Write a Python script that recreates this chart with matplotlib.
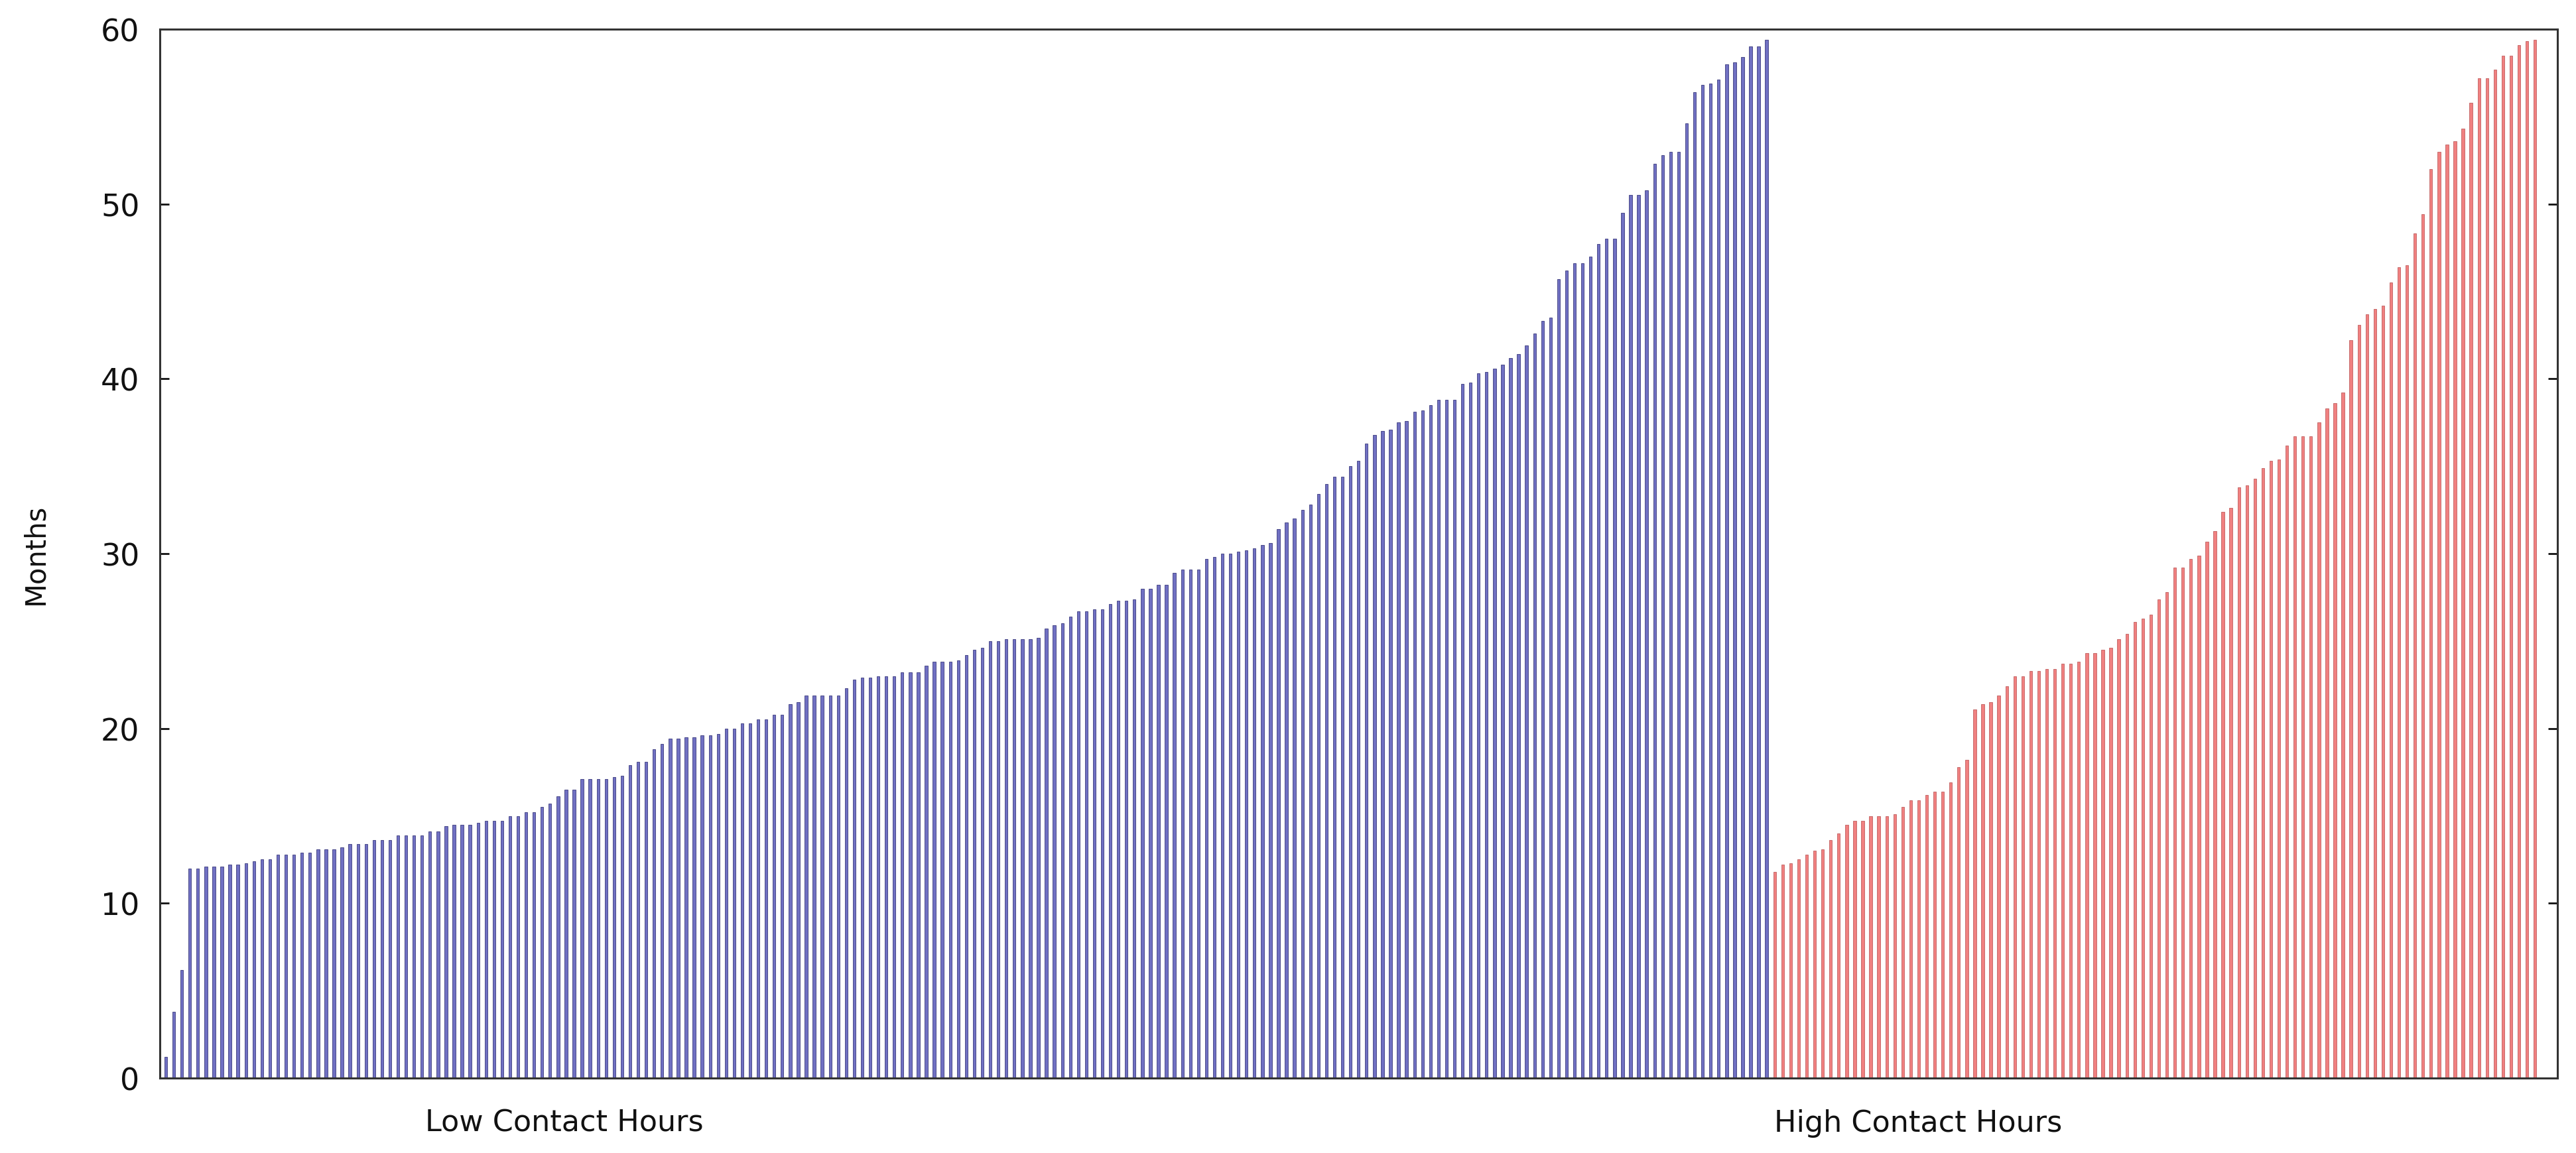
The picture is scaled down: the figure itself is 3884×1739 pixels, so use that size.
import matplotlib
matplotlib.use("Agg")
import matplotlib.pyplot as plt
import numpy as np

# months per patient, sorted
low_contact = [
    1.2, 3.8, 6.2, 12.0, 12.0, 12.1, 12.1, 12.1, 12.2, 12.2, 12.3, 12.4, 12.5, 12.5,
    12.8, 12.8, 12.8, 12.9, 12.9, 13.1, 13.1, 13.1, 13.2, 13.4, 13.4, 13.4, 13.6, 13.6,
    13.6, 13.9, 13.9, 13.9, 13.9, 14.1, 14.1, 14.4,
    14.5, 14.5, 14.5, 14.6, 14.7, 14.7, 14.7, 15.0, 15.0, 15.2, 15.2, 15.5, 15.7, 16.1,
    16.5, 16.5, 17.1, 17.1, 17.1, 17.1, 17.2, 17.3, 17.9, 18.1, 18.1, 18.8, 19.1, 19.4,
    19.4, 19.5, 19.5, 19.6, 19.6, 19.7, 20.0,
    20.0, 20.3, 20.3, 20.5, 20.5, 20.8, 20.8, 21.4, 21.5, 21.9, 21.9, 21.9, 21.9, 21.9,
    22.3, 22.8, 22.9, 22.9, 23.0, 23.0, 23.0, 23.2, 23.2, 23.2, 23.6, 23.8, 23.8, 23.8,
    23.9, 24.2, 24.5, 24.6, 25.0, 25.0, 25.1, 25.1,
    25.1, 25.1, 25.2, 25.7, 25.9, 26.0, 26.4, 26.7, 26.7, 26.8, 26.8, 27.1, 27.3, 27.3,
    27.4, 28.0, 28.0, 28.2, 28.2, 28.9, 29.1, 29.1, 29.1, 29.7, 29.8, 30.0, 30.0, 30.1,
    30.2, 30.3, 30.5, 30.6, 31.4, 31.8, 32.0,
    32.5, 32.8, 33.4, 34.0, 34.4, 34.4, 35.0, 35.3, 36.3, 36.8, 37.0, 37.1, 37.5, 37.6,
    38.1, 38.2, 38.5, 38.8, 38.8, 38.8, 39.7, 39.8, 40.3, 40.4, 40.6, 40.8, 41.2, 41.4,
    41.9, 42.6, 43.3, 43.5, 45.7,
    46.2, 46.6, 46.6, 47.0, 47.7, 48.0, 48.0, 49.5, 50.5, 50.5, 50.8, 52.3, 52.8, 53.0,
    53.0, 54.6, 56.4, 56.8, 56.9, 57.1, 58.0, 58.1, 58.4, 59.0, 59.0, 59.4,
]
high_contact = [
    11.8, 12.2, 12.3, 12.5, 12.8, 13.0, 13.1, 13.6, 14.0, 14.5, 14.7, 14.7, 15.0, 15.0,
    15.0, 15.1, 15.5, 15.9, 15.9, 16.2, 16.4, 16.4, 16.9, 17.8, 18.2, 21.1, 21.4, 21.5,
    21.9, 22.4, 23.0, 23.0, 23.3, 23.3, 23.4, 23.4,
    23.7, 23.7, 23.8, 24.3, 24.3, 24.5, 24.6, 25.1, 25.4, 26.1, 26.3, 26.5, 27.4, 27.8,
    29.2, 29.2, 29.7, 29.9, 30.7, 31.3, 32.4, 32.6, 33.8, 33.9, 34.3, 34.9, 35.3, 35.4,
    36.2, 36.7, 36.7, 36.7, 37.5, 38.3,
    38.6, 39.2, 42.2, 43.1, 43.7, 44.0, 44.2, 45.5, 46.4, 46.5, 48.3, 49.4,
    52.0, 53.0, 53.4, 53.6, 54.3, 55.8, 57.2, 57.2, 57.7, 58.5, 58.5, 59.1, 59.3, 59.4,
]
group_labels = ["Low Contact Hours", "High Contact Hours"]
y_ticks = [0, 10, 20, 30, 40, 50, 60]

x_low = np.arange(len(low_contact))
x_high = np.arange(len(high_contact)) + len(low_contact)

W, H = 3884, 1740
fig = plt.figure(figsize=(W / 100, H / 100), dpi=100)
ax = fig.add_axes([241 / W, 1 - 1627 / H, (3856 - 241) / W, (1627 - 45) / H])

ax.bar(x_low, low_contact, width=0.36, color="#7070c2", edgecolor="#3a3a7c", linewidth=0.6)
ax.bar(x_high, high_contact, width=0.36, color="#f08080", edgecolor="#c06060", linewidth=0.6)

ax.set_xlim(-0.75, 298.8)
ax.set_ylim(0, 60)
ax.set_yticks(y_ticks)
ax.tick_params(axis="y", which="both", direction="in", length=10, width=2,
               right=True, labelsize=33, pad=22, colors="#111111")

# group labels under each block of bars
ax.set_xticks([49.8, 218.9])
ax.set_xticklabels(group_labels)
ax.tick_params(axis="x", length=0, labelsize=32, pad=33, colors="#111111")

ax.set_ylabel("Months", fontsize=30, color="#111111", labelpad=56)

for s in ax.spines.values():
    s.set_linewidth(2.2)
    s.set_color("#333333")

fig.savefig("out.png", dpi=100, facecolor="white")
